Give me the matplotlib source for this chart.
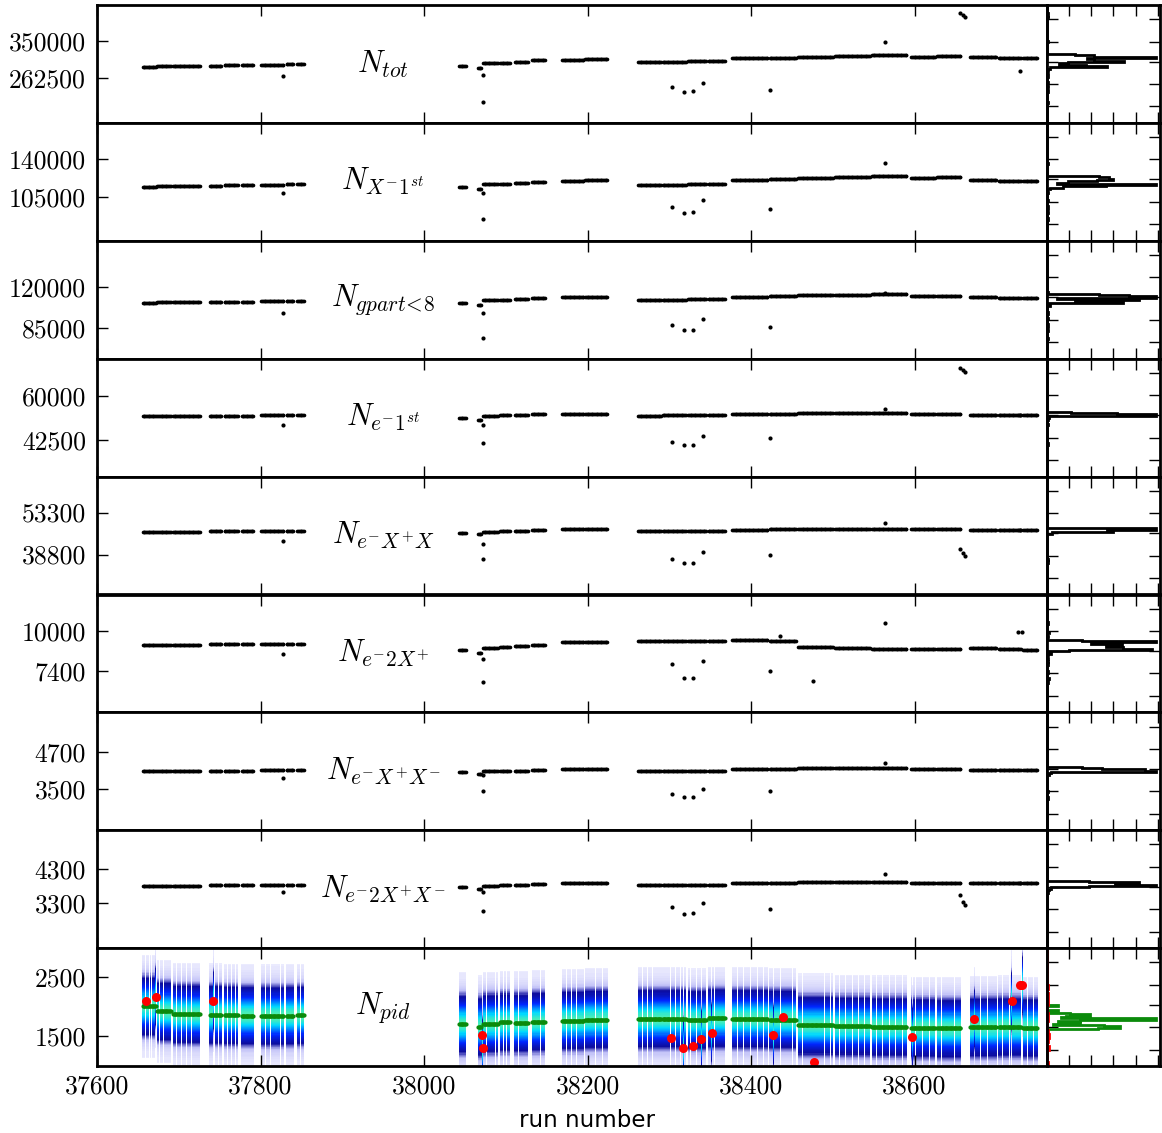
import numpy as np
import matplotlib
matplotlib.use("Agg")
import matplotlib.pyplot as plt
from matplotlib.colors import LinearSegmentedColormap

plt.rcParams['mathtext.fontset'] = 'cm'
plt.rcParams['font.family'] = 'cmr10'
plt.rcParams['axes.unicode_minus'] = False

# ---------------------------------------------------------------- run blocks
seg_start = [37656, 37674, 37693, 37738, 37756, 37777, 37801, 37832, 37845,
             38043, 38066, 38072, 38093, 38111, 38132, 38169, 38197, 38262,
             38292, 38323, 38348, 38377, 38423, 38458, 38503, 38548, 38596,
             38628, 38668, 38703, 38733]
seg_end = [37672, 37690, 37726, 37752, 37772, 37791, 37828, 37840, 37853,
           38051, 38070, 38090, 38105, 38127, 38148, 38195, 38224, 38290,
           38320, 38345, 38368, 38420, 38455, 38500, 38545, 38590, 38625,
           38656, 38700, 38730, 38750]

# ---------------------------------------------------------------- per-block levels
n_tot = [289300, 290500, 291700, 291700, 292800, 292800, 294000, 295200, 295200,
         291700, 287000, 298700, 298700, 301000, 304500, 305700, 306800, 301000,
         301000, 302200, 303300, 309200, 310300, 312700, 315000, 317300, 312700,
         313800, 312700, 310300, 309200]
n_x1st = [114200, 114700, 115100, 115100, 115600, 115600, 116100, 116500, 116500,
          114200, 112400, 117000, 117000, 117900, 118800, 119700, 120200, 116100,
          116100, 116500, 117000, 120700, 121600, 122500, 123400, 123900, 122500,
          123000, 120700, 119700, 119300]
n_gpart = [106350, 106800, 107200, 107200, 107200, 107200, 107600, 107600, 107600,
           106350, 104600, 108900, 108900, 109300, 110200, 111000, 111000, 108900,
           108900, 109300, 109300, 111500, 111900, 112800, 113200, 113600, 112300,
           112300, 111000, 110600, 110600]
n_e1st = [52050, 52050, 52050, 52050, 52050, 52050, 52250, 52250, 52250,
          51260, 50500, 52050, 52250, 52450, 52650, 52850, 52850, 52050,
          52250, 52250, 52450, 52850, 52850, 53050, 53250, 53250, 52850,
          52850, 52450, 52450, 52250]
n_exx = [46740, 46740, 46740, 46900, 46900, 46900, 47080, 47080, 47080,
         46390, 46050, 46740, 46900, 47080, 47430, 47600, 47600, 46900,
         46900, 47080, 47080, 47430, 47600, 47600, 47770, 47770, 47600,
         47600, 47250, 47250, 47250]
n_e2x = [9120, 9120, 9120, 9155, 9155, 9155, 9155, 9155, 9155,
         8765, 8570, 8895, 8960, 9025, 9090, 9285, 9285, 9350,
         9350, 9350, 9350, 9415, 9350, 8960, 8895, 8830, 8830,
         8830, 8895, 8830, 8765]
n_exxm = [4083, 4083, 4083, 4100, 4100, 4100, 4116, 4116, 4116,
          4050, 3986, 4083, 4083, 4100, 4116, 4148, 4148, 4083,
          4083, 4100, 4100, 4148, 4164, 4180, 4197, 4197, 4164,
          4164, 4116, 4116, 4116]
n_e2xxm = [3800, 3800, 3800, 3829, 3829, 3829, 3844, 3844, 3844,
           3770, 3712, 3800, 3829, 3844, 3859, 3903, 3903, 3829,
           3829, 3844, 3844, 3888, 3903, 3917, 3932, 3932, 3903,
           3903, 3888, 3888, 3888]
n_pid_mean = [2010, 1920, 1870, 1860, 1850, 1845, 1840, 1845, 1850,
              1700, 1660, 1710, 1730, 1720, 1740, 1760, 1780, 1790,
              1790, 1770, 1800, 1790, 1780, 1680, 1670, 1660, 1640,
              1630, 1650, 1660, 1640]

# ---------------------------------------------------------------- isolated runs
out_runs = [37828, 38072, 38072, 38303, 38318, 38329, 38341, 38423, 38564]
tot_out = [268300, 270700, 207700, 242700, 231000, 233300, 252000, 235700, 347700]
x1st_out = [108700, 108700, 84700, 95800, 90300, 91200, 102200, 94000, 136300]
gpart_out = [97800, 97800, 76500, 87600, 83300, 83300, 92700, 85900, 114900]
e1st_out = [48500, 48500, 41300, 41700, 40500, 40500, 44100, 43300, 54800]
exx_out = [43600, 42600, 37100, 37100, 36000, 36000, 39800, 38800, 49800]
e2x_out = [8505, 8180, 6685, 7855, 6945, 6945, 8050, 7400, 10520]
exxm_out = [3856, 3954, 3435, 3338, 3241, 3241, 3500, 3435, 4342]
e2xxm_out = [3623, 3623, 3065, 3182, 2977, 3006, 3300, 3124, 4153]

late_runs = [38656, 38659, 38662, 38729]
tot_late = [415300, 410000, 406000, 280000]
e1st_late = [71160, 70400, 69560, 52450]
exx_late = [40870, 39490, 38450, 47250]
e2xxm_late = [3535, 3329, 3241, 3888]
e2x_late_runs = [38435, 38476, 38727, 38731]
e2x_late = [9675, 6750, 9935, 9935]

pid_red_runs = [37660, 37672, 37742, 38071, 38072, 38302, 38317, 38329, 38339,
                38352, 38427, 38439, 38477, 38597, 38673, 38719, 38729, 38732]
pid_red_vals = [2090, 2170, 2100, 1520, 1300, 1460, 1300, 1320, 1440,
                1550, 1510, 1820, 1050, 1490, 1790, 2090, 2370, 2370]

# runs without a PID distribution inside the blocks
pid_missing = [37659, 37664, 37667, 37676, 37681, 37688, 37697, 37703, 37709,
               37716, 37721, 37744, 37749, 37760, 37765, 37769, 37781, 37786,
               37806, 37812, 37819, 37824, 37836, 37849, 38076, 38082, 38087,
               38097, 38101, 38116, 38121, 38137, 38142, 38174, 38180, 38187,
               38203, 38210, 38218, 38267, 38273, 38279, 38285, 38296, 38301,
               38308, 38314, 38326, 38333, 38355, 38362, 38383, 38391, 38399,
               38408, 38415, 38428, 38436, 38444, 38451, 38463, 38471, 38482,
               38490, 38497, 38508, 38516, 38524, 38531, 38539, 38553, 38561,
               38569, 38577, 38585, 38601, 38610, 38618, 38633, 38641, 38649,
               38673, 38681, 38689, 38696, 38708, 38716, 38724, 38738, 38745]

# ---------------------------------------------------------------- axis settings
labels = [r'$N_{tot}$', r'$N_{X^{-}1^{st}}$', r'$N_{gpart\!<\!8}$', r'$N_{e^{-}1^{st}}$',
          r'$N_{e^{-}X^{+}X}$', r'$N_{e^{-}2X^{+}}$', r'$N_{e^{-}X^{+}X^{-}}$',
          r'$N_{e^{-}2X^{+}X^{-}}$', r'$N_{pid}$']
ylims = [(158700, 434000), (64500, 173200), (58500, 159300), (27800, 74700),
         (25000, 65700), (4730, 12400), (2170, 6000), (1980, 5450), (984, 3000)]
yticks = [(262500, 350000), (105000, 140000), (85000, 120000), (42500, 60000),
          (38800, 53300), (7400, 10000), (3500, 4700), (3300, 4300), (1500, 2500)]
xticks = [37600, 37800, 38000, 38200, 38400, 38600]

levels = [n_tot, n_x1st, n_gpart, n_e1st, n_exx, n_e2x, n_exxm, n_e2xxm]
extras = [
    (out_runs + late_runs, tot_out + tot_late),
    (out_runs, x1st_out),
    (out_runs, gpart_out),
    (out_runs + late_runs, e1st_out + e1st_late),
    (out_runs + late_runs, exx_out + exx_late),
    (out_runs + e2x_late_runs, e2x_out + e2x_late),
    (out_runs, exxm_out),
    (out_runs + late_runs, e2xxm_out + e2xxm_late),
]


def expand(levs):
    r, v = [], []
    for s, e, lv in zip(seg_start, seg_end, levs):
        rr = np.arange(s, e + 1)
        r.append(rr)
        v.append(np.full(rr.size, lv, dtype=float))
    return np.concatenate(r), np.concatenate(v)


W_PX, H_PX = 1162, 1133
fig = plt.figure(figsize=(W_PX / 100, H_PX / 100), dpi=100)
L, W = 97 / W_PX, 950 / W_PX
SL, SW = 1047 / W_PX, 113 / W_PX
TOP = 1 - 5 / H_PX
RH = 117.9 / H_PX
XMIN, XMAX = 37600, 38762
TICK_FS = 18.5


def style_main(ax, i, last):
    ax.set_xlim(XMIN, XMAX)
    ax.set_ylim(*ylims[i])
    ax.set_yticks(yticks[i])
    ax.set_yticklabels([str(t) for t in yticks[i]], fontsize=TICK_FS)
    ax.set_xticks(xticks)
    if last:
        ax.set_xticklabels([str(t) for t in xticks], fontsize=TICK_FS)
    else:
        ax.set_xticklabels([])
    ax.tick_params(axis='x', direction='in', top=True, bottom=True, length=8, width=1, pad=6)
    ax.tick_params(axis='y', direction='in', left=True, right=False, length=8, width=1, pad=8)
    for sp in ax.spines.values():
        sp.set_linewidth(2)
    ax.text(37950, 0.5 * (ylims[i][0] + ylims[i][1]), labels[i], ha='center', va='center',
            fontsize=22)


def style_side(sx, i, hmax):
    sx.set_ylim(*ylims[i])
    xm = hmax * 1.04
    sx.set_xlim(0, xm)
    sx.set_xticks([xm * f for f in (0.196, 0.392, 0.588, 0.784, 0.98)])
    y0, y1 = ylims[i]
    sx.set_yticks([y0 + (y1 - y0) * f for f in (0.14, 0.33, 0.52, 0.69, 0.88)])
    sx.set_xticklabels([])
    sx.set_yticklabels([])
    sx.tick_params(direction='in', top=True, bottom=True, left=True, right=True,
                   length=8, width=1)
    for sp in sx.spines.values():
        sp.set_linewidth(2)


for i in range(8):
    b = TOP - (i + 1) * RH
    ax = fig.add_axes([L, b, W, RH])
    sx = fig.add_axes([SL, b, SW, RH])
    r, v = expand(levels[i])
    er, ev = extras[i]
    ax.plot(r, v, 'o', ms=2.6, color='k', mec='none')
    ax.plot(er, ev, 'o', ms=3.0, color='k', mec='none')
    allv = np.concatenate([v, np.asarray(ev, float)])
    bins = np.linspace(ylims[i][0], ylims[i][1], 90)
    cnt, _, _ = sx.hist(allv, bins=bins, orientation='horizontal', histtype='step',
                        color='k', lw=2)
    style_main(ax, i, False)
    style_side(sx, i, cnt.max())

# ---------------------------------------------------------------- N_pid panel
i = 8
b = TOP - (i + 1) * RH
ax = fig.add_axes([L, b, W, RH])
sx = fig.add_axes([SL, b, SW, RH])

cmap = LinearSegmentedColormap.from_list('pid', [
    (0.00, (0.95, 0.95, 1.00)),
    (0.05, (0.76, 0.76, 0.97)),
    (0.10, (0.05, 0.05, 0.62)),
    (0.25, (0.00, 0.15, 1.00)),
    (0.45, (0.00, 0.85, 1.00)),
    (0.60, (0.50, 1.00, 0.50)),
    (0.75, (1.00, 1.00, 0.00)),
    (0.90, (1.00, 0.40, 0.00)),
    (1.00, (0.60, 0.00, 0.00)),
])

xe = np.arange(XMIN - 0.5, XMAX + 0.5, 1.0)
xc = 0.5 * (xe[:-1] + xe[1:])
ye = np.linspace(984, 3000, 113)
yc = 0.5 * (ye[:-1] + ye[1:])
Z = np.full((yc.size, xc.size), np.nan)


def column(m):
    dy = yc - m
    return 0.52 * np.exp(-0.5 * (dy / 250.0) ** 2) + 0.022 * np.exp(-0.5 * (dy / 700.0) ** 2)


for s, e, m in zip(seg_start, seg_end, n_pid_mean):
    sel = (xc >= s) & (xc <= e)
    Z[:, sel] = column(m)[:, None]
for rr in pid_missing:
    Z[:, np.abs(xc - rr) < 0.5] = np.nan
for rr, m in zip(pid_red_runs, pid_red_vals):
    sel = np.abs(xc - rr) < 0.5
    Z[:, sel] = column(m)[:, None]
Z = np.ma.masked_where(~np.isfinite(Z) | (Z < 0.011), Z)
ax.pcolormesh(xe, ye, Z, cmap=cmap, vmin=0, vmax=1, shading='flat', rasterized=True)

pr, pv = expand(n_pid_mean)
ax.plot(pr, pv, 'o', ms=3.0, color='#0b8a0b', mec='none')
ax.plot(pid_red_runs, pid_red_vals, 'o', ms=6.5, color='red', mec='none')

bins = np.linspace(ylims[i][0], ylims[i][1], 90)
cnt, _, _ = sx.hist(pv, bins=bins, orientation='horizontal', histtype='step',
                    color='#0b8a0b', lw=2)
sx.hist(pid_red_vals, bins=np.linspace(ylims[i][0], ylims[i][1], 30),
        orientation='horizontal', histtype='step', color='red', lw=2)
style_main(ax, i, True)
style_side(sx, i, cnt.max())
ax.set_xlabel('run number', fontsize=16.5, family='DejaVu Sans')
ax.xaxis.set_label_coords(0.516, -0.36)

fig.savefig('out.png', dpi=100)
